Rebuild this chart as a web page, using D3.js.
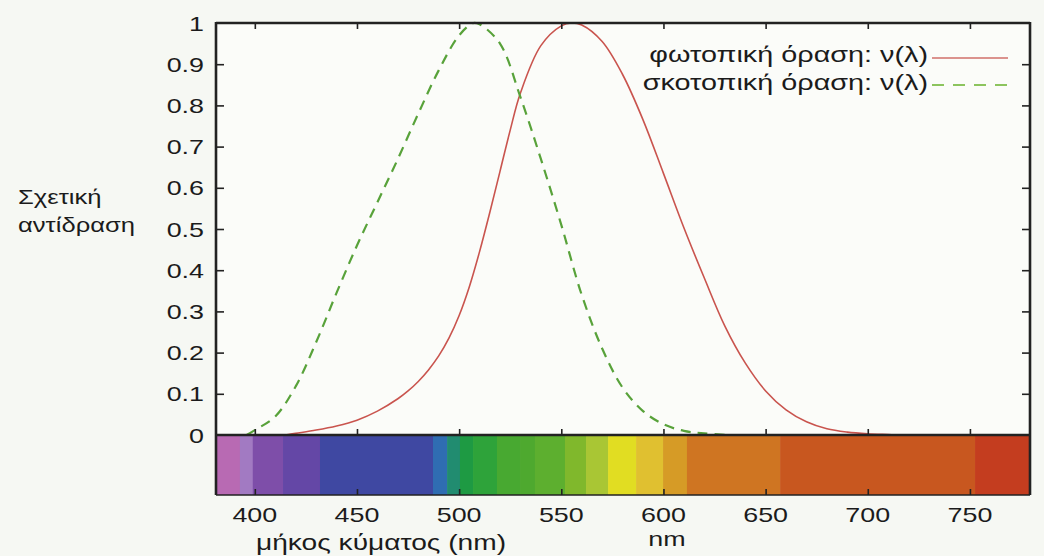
<!DOCTYPE html>
<html>
<head>
<meta charset="utf-8">
<script src="https://cdn.jsdelivr.net/npm/d3@7"></script>
<style>
  html, body { margin: 0; padding: 0; background: #f6f8f3; }
  svg { display: block; font-family: "Liberation Sans", Arial, sans-serif; }
</style>
</head>
<body>
<div id="chart"></div>
<script>
// Wavelengths (nm) and relative response.
const photopicNm = [415, 420, 430, 440, 450, 460, 470, 475, 480, 485, 490, 495, 500, 505, 510, 515, 520, 525, 530, 540, 550, 555, 560, 570, 580, 590, 600, 610, 620, 630, 640, 650, 660, 670, 680, 690, 700, 710, 715];
const photopicV = [0, 0.004, 0.012, 0.022, 0.036, 0.058, 0.088, 0.107, 0.13, 0.158, 0.192, 0.235, 0.29, 0.36, 0.445, 0.54, 0.64, 0.74, 0.83, 0.945, 0.993, 1.0, 0.995, 0.955, 0.875, 0.765, 0.635, 0.503, 0.381, 0.265, 0.175, 0.107, 0.061, 0.032, 0.015, 0.007, 0.003, 0.001, 0];

const scotopicNm = [396, 400, 410, 420, 430, 440, 450, 460, 470, 480, 490, 500, 507, 510, 520, 530, 540, 550, 560, 570, 580, 590, 600, 610, 620, 632];
const scotopicV = [0, 0.012, 0.045, 0.118, 0.225, 0.345, 0.46, 0.565, 0.67, 0.78, 0.885, 0.97, 1.0, 0.997, 0.95, 0.82, 0.67, 0.51, 0.34, 0.21, 0.115, 0.058, 0.026, 0.01, 0.004, 0];

// Colour bands of the spectrum strip (edges in nm).
const spectrumEdges = [381, 392.7, 399, 413.8, 431.9, 487.2, 494.1, 500.4, 506.8, 518.5, 529.8, 537.1, 551.8, 562.1, 572.9, 586.6, 599.8, 611.5, 657.1, 752.5, 779.4];
const spectrumColors = ['#b86ab3', '#a27ac2', '#7e4ea9', '#6447a6', '#3f48a2', '#2f6db2', '#218c70', '#1e9a43', '#2ea33a', '#48a931', '#4ea92f', '#5daf2f', '#80b82c', '#a9c634', '#e1dd22', '#e0c030', '#d69b26', '#cf7522', '#c8571f', '#c43d1f'];

const xTicks = [400, 450, 500, 550, 600, 650, 700, 750];
const yTicks = [0, 0.1, 0.2, 0.3, 0.4, 0.5, 0.6, 0.7, 0.8, 0.9, 1];
const legendLabels = ['φωτοπική όραση: ν(λ)', 'σκοτοπική όραση: ν(λ)'];

const width = 1044, height = 556;
const plotLeft = 216, plotRight = 1030, plotTop = 23, zeroY = 435, barBottom = 495;
const SX = 1.28; // the scan is stretched sideways

const x = d3.scaleLinear().domain([381, 779.4]).range([plotLeft, plotRight]);
const y = d3.scaleLinear().domain([0, 1]).range([zeroY, plotTop]);

const svg = d3.select('#chart').append('svg')
    .attr('width', width)
    .attr('height', height);

svg.append('rect').attr('width', width).attr('height', height).attr('fill', '#f6f8f3');
svg.append('rect')
    .attr('x', plotLeft).attr('y', plotTop)
    .attr('width', plotRight - plotLeft).attr('height', zeroY - plotTop)
    .attr('fill', '#fbfcf9');

function addText(px, py, str, anchor, size) {
    return svg.append('text')
        .attr('transform', `translate(${px},${py}) scale(${SX},1)`)
        .attr('text-anchor', anchor)
        .attr('font-size', size)
        .attr('fill', '#1b1b1b')
        .text(str);
}

// Spectrum strip
const bands = spectrumColors.map((c, i) => ({ a: spectrumEdges[i], b: spectrumEdges[i + 1], c: c }));
svg.append('g').selectAll('rect')
    .data(bands)
    .join('rect')
    .attr('x', (d) => x(d.a))
    .attr('y', zeroY)
    .attr('width', (d) => x(d.b) - x(d.a) + 0.5)
    .attr('height', barBottom - zeroY)
    .attr('fill', (d) => d.c);

// Curves
const line = d3.line()
    .x((d) => x(d[0]))
    .y((d) => y(d[1]))
    .curve(d3.curveCatmullRom.alpha(0.5));

svg.append('path')
    .datum(photopicNm.map((n, i) => [n, photopicV[i]]))
    .attr('d', line)
    .attr('fill', 'none')
    .attr('stroke', '#c9544e')
    .attr('stroke-width', 1.6);

svg.append('path')
    .datum(scotopicNm.map((n, i) => [n, scotopicV[i]]))
    .attr('d', line)
    .attr('fill', 'none')
    .attr('stroke', '#58a23a')
    .attr('stroke-width', 2.2)
    .attr('stroke-dasharray', '10,7');

// Ticks (inward) via d3 axes, labels drawn separately
const tickStyle = (g) => {
    g.select('.domain').remove();
    g.selectAll('.tick line').attr('stroke', '#222').attr('stroke-width', 1.6);
    g.selectAll('.tick text').remove();
};
const innerY = yTicks.filter((v) => v > 0 && v < 1);

svg.append('g').attr('transform', `translate(${plotLeft},0)`)
    .call(d3.axisLeft(y).tickValues(innerY).tickSize(-8)).call(tickStyle);
svg.append('g').attr('transform', `translate(${plotRight},0)`)
    .call(d3.axisRight(y).tickValues(innerY).tickSize(-8)).call(tickStyle);
svg.append('g').attr('transform', `translate(0,${plotTop})`)
    .call(d3.axisTop(x).tickValues(xTicks).tickSize(-6)).call(tickStyle);
svg.append('g').attr('transform', `translate(0,${zeroY})`)
    .call(d3.axisBottom(x).tickValues(xTicks).tickSize(-6)).call(tickStyle);
svg.append('g').attr('transform', `translate(0,${barBottom})`)
    .call(d3.axisBottom(x).tickValues(xTicks).tickSize(-6)).call(tickStyle);

// Frame
const frame = svg.append('g').attr('stroke', '#222').attr('stroke-width', 2.6).attr('fill', 'none');
frame.append('line').attr('x1', plotLeft).attr('x2', plotRight).attr('y1', plotTop).attr('y2', plotTop);
frame.append('line').attr('x1', plotLeft).attr('x2', plotLeft).attr('y1', plotTop - 1).attr('y2', barBottom);
frame.append('line').attr('x1', plotRight).attr('x2', plotRight).attr('y1', plotTop - 1).attr('y2', barBottom);
frame.append('line').attr('x1', plotLeft).attr('x2', plotRight).attr('y1', zeroY).attr('y2', zeroY);
frame.append('line').attr('x1', plotLeft).attr('x2', plotRight).attr('y1', barBottom).attr('y2', barBottom)
    .attr('stroke-width', 1.6);

// Tick labels
yTicks.forEach((v) => addText(204, y(v) + 7.5, d3.format('~g')(v), 'end', 21));
xTicks.forEach((v) => addText(x(v), 522, String(v), 'middle', 21));

// Axis titles
addText(18, 204, 'Σχετική', 'start', 20);
addText(18, 232, 'αντίδραση', 'start', 20);
addText(381, 550, 'μήκος κύματος (nm)', 'middle', 22);
addText(667, 546, 'nm', 'middle', 21);

// Legend
addText(928, 62, legendLabels[0], 'end', 22.5);
addText(928, 90, legendLabels[1], 'end', 22.5);
svg.append('line').attr('x1', 932).attr('x2', 1008).attr('y1', 58).attr('y2', 58)
    .attr('stroke', '#d0706a').attr('stroke-width', 1.6);
svg.append('line').attr('x1', 932).attr('x2', 1008).attr('y1', 85).attr('y2', 85)
    .attr('stroke', '#8cc45e').attr('stroke-width', 2.2).attr('stroke-dasharray', '12,9');
</script>
</body>
</html>
